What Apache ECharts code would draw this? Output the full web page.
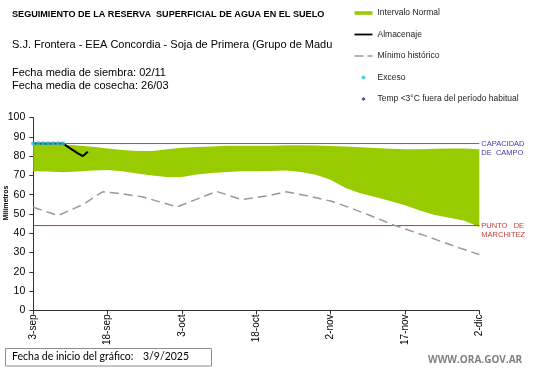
<!DOCTYPE html>
<html>
<head>
<meta charset="utf-8">
<script src="https://cdn.jsdelivr.net/npm/echarts@6/dist/echarts.min.js"></script>
<style>
html,body{margin:0;padding:0;background:#fff;}
#chart{width:541px;height:368px;}
</style>
</head>
<body>
<div id="chart"></div>
<script>
// ---- data ----
const tickLabels = ['3-sep','18-sep','3-oct','18-oct','2-nov','17-nov','2-dic'];
const bandDays    = [0,3,6,9,12,15,18,21,24,27,30,33,36,39,42,45,48,51,54,57,60,63,66,69,72,75,78,81,84,87,90];
const normalLower = [72.2,72,71.6,72,72.5,72.8,72.2,71,70,69.2,69.2,70.5,71.3,71.8,72.2,72.2,72.3,72.6,71.8,70.3,67.8,63.5,60.8,58.8,56.8,54.5,51.8,49.5,48,46.5,43.3];
const normalUpper = [86.5,86.3,86,85.5,84.8,84,83.2,82.6,82.7,83.5,84.3,84.7,85,85.3,85.3,85.3,85.4,85.6,85.6,85.5,85.2,85,84.6,84.2,83.8,83.5,83.5,83.8,84,84,83.5];
const minDays   = [0,5,10,14,17,22,29,37,42,47,51,55,60,63,68,73,79,85,90];
const minValues = [53.5,49.2,54.9,61.5,60.8,58.9,53.7,61.7,57.5,59.3,61.5,59.6,56.7,54.1,49.2,44,38.8,33.3,29];
const almDays   = [0,1,2,3,4,5,6,7,8,9,10,11];
const almValues = [86.5,86.5,86.5,86.5,86.5,86.5,86.5,84.8,83.1,81.4,80,82.2];
const excesoDays   = [0,1,2,3,4,5,6];
const excesoValues = [86.5,86.5,86.5,86.5,86.5,86.5,86.5];
const tempDays = [];
const tempValues = [];
const refDays = [0, 90];
const capacidadCampo = 86.5;
const puntoMarchitez = 44;

const pairs = (xs, ys) => xs.map((x, i) => [x, ys[i]]);
const bandData = bandDays.map((d, i) => [d, normalLower[i], normalUpper[i]]);

const chart = echarts.init(document.getElementById('chart'), null, {renderer: 'canvas'});
const FONT = '"Liberation Sans", Arial, sans-serif';

function refLine(name, value, lineColor, labelColor, text) {
  return {
    name: name, type: 'line', data: refDays.map(d => [d, value]), symbol: 'none', z: 2,
    silent: true,
    lineStyle: {color: lineColor, width: 1, type: 'solid'}, itemStyle: {color: lineColor},
    endLabel: {show: true, distance: 2, formatter: text,
               color: labelColor, fontSize: 7.5, lineHeight: 9, align: 'left', fontFamily: FONT}
  };
}

chart.setOption({
  animation: false,
  backgroundColor: '#fff',
  textStyle: {fontFamily: FONT},
  grid: {left: 33.3, right: 61.7, top: 117.5, bottom: 57.5, containLabel: false},
  legend: {
    orient: 'vertical', left: 349.5, top: 3.5,
    itemWidth: 18, itemHeight: 4, itemGap: 12.5,
    textStyle: {fontSize: 8.5, color: '#222', fontFamily: FONT, lineHeight: 9},
    selectedMode: false,
    data: [
      {name: 'Intervalo Normal', icon: 'path://M0,0H20V4H0Z', itemStyle: {color: '#99cc00'}},
      {name: 'Almacenaje', icon: 'path://M0,0H20V2H0Z', itemStyle: {color: '#000'}},
      {name: 'Mínimo histórico', icon: 'path://M0,0H9V1.3H0Z M13,0H18V1.3H13Z', itemStyle: {color: '#999'}},
      {name: 'Exceso', icon: 'circle', itemStyle: {color: '#33c0e0'}},
      {name: 'Temp <3°C fuera del período habitual', icon: 'path://M2,0L4,2L2,4L0,2Z', itemStyle: {color: '#1a1a8c'}}
    ]
  },
  xAxis: {
    type: 'value', min: 0, max: 90, interval: 15,
    axisLine: {show: true, lineStyle: {color: '#333', width: 1}},
    axisTick: {show: true, length: 4, lineStyle: {color: '#333'}},
    splitLine: {show: false},
    axisLabel: {
      rotate: 90, margin: 4, fontSize: 10, color: '#000', fontFamily: FONT,
      formatter: v => tickLabels[Math.round(v / 15)] || ''
    }
  },
  yAxis: {
    type: 'value', min: 0, max: 100, interval: 10,
    axisLine: {show: true, lineStyle: {color: '#333', width: 1}},
    axisTick: {show: true, length: 4, lineStyle: {color: '#333'}},
    splitLine: {show: false},
    axisLabel: {margin: 8, fontSize: 10.5, color: '#000', fontFamily: FONT}
  },
  series: [
    {
      name: 'Intervalo Normal', type: 'custom', data: bandData, z: 1,
      itemStyle: {color: '#99cc00'},
      encode: {x: 0, y: [1, 2]},
      renderItem: function (params, api) {
        if (params.dataIndex !== 0) return null;
        const pts = [];
        for (let i = 0; i < bandData.length; i++) pts.push(api.coord([bandData[i][0], bandData[i][2]]));
        for (let i = bandData.length - 1; i >= 0; i--) pts.push(api.coord([bandData[i][0], bandData[i][1]]));
        return {type: 'polygon', shape: {points: pts}, style: {fill: '#99cc00'}};
      }
    },
    refLine('capacidad', capacidadCampo, '#4a63d0', '#3b3bb0', '\nCAPACIDAD\nDE  CAMPO'),
    refLine('marchitez', puntoMarchitez, '#c0392b', '#c23a3a', '\nPUNTO   DE\nMARCHITEZ'),
    {
      name: 'Mínimo histórico', type: 'line', data: pairs(minDays, minValues),
      symbol: 'none', lineStyle: {color: '#999', width: 1.5, type: [9, 5]},
      itemStyle: {color: '#999'}, z: 3
    },
    {
      name: 'Almacenaje', type: 'line', data: pairs(almDays, almValues),
      symbol: 'none', lineStyle: {color: '#000', width: 2}, itemStyle: {color: '#000'}, z: 4
    },
    {
      name: 'Exceso', type: 'scatter', data: pairs(excesoDays, excesoValues),
      symbol: 'circle', symbolSize: 4.6, itemStyle: {color: '#33c0e0'}, z: 5
    },
    {
      name: 'Temp <3°C fuera del período habitual', type: 'scatter', data: pairs(tempDays, tempValues),
      symbol: 'diamond', symbolSize: 6, itemStyle: {color: '#1a1a8c'}, z: 5
    }
  ],
  graphic: [
    {type: 'text', left: 12, top: 10, style: {text: 'SEGUIMIENTO DE LA RESERVA  SUPERFICIAL DE AGUA EN EL SUELO', font: 'bold 9.1px ' + FONT, fill: '#000'}},
    {type: 'text', left: 12, top: 39, style: {text: 'S.J. Frontera - EEA Concordia - Soja de Primera (Grupo de Madu', font: '11px ' + FONT, fill: '#000'}},
    {type: 'text', left: 12, top: 67, style: {text: 'Fecha media de siembra: 02/11', font: '11px ' + FONT, fill: '#000'}},
    {type: 'text', left: 12, top: 80, style: {text: 'Fecha media de cosecha: 26/03', font: '11px ' + FONT, fill: '#000'}},
    {type: 'text', x: 6, y: 203, rotation: Math.PI / 2,
     style: {text: 'Milímetros', font: 'bold 7px ' + FONT, fill: '#000', align: 'center', verticalAlign: 'middle'}},
    {type: 'rect', shape: {x: 5.5, y: 348.5, width: 206, height: 17.5},
     style: {fill: '#fff', stroke: '#8c8c8c', lineWidth: 1}},
    {type: 'text', left: 12, top: 351.5, style: {text: 'Fecha de inicio del gráfico:', font: '10.5px Lato, ' + FONT, fill: '#000'}},
    {type: 'text', left: 143, top: 351.5, style: {text: '3/9/2025', font: '10.5px Lato, ' + FONT, fill: '#000'}},
    {type: 'text', left: 428, top: 355, style: {text: 'WWW.ORA.GOV.AR', font: 'bold 10px "Open Sans", ' + FONT, fill: '#808080'}}
  ]
});
</script>
</body>
</html>
